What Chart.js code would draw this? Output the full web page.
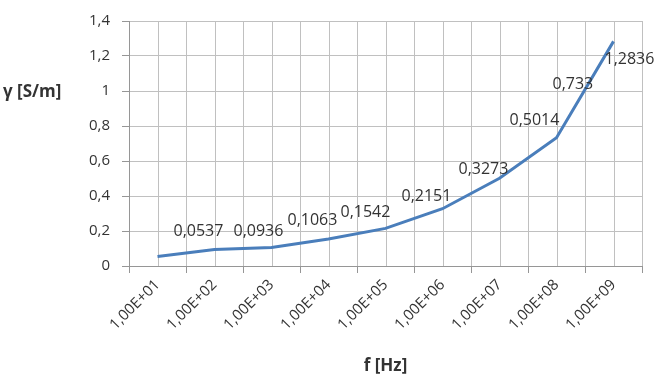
<!DOCTYPE html>
<html>
<head>
<meta charset="utf-8">
<script src="https://cdn.jsdelivr.net/npm/chart.js@4/dist/chart.umd.min.js"></script>
<style>
    html, body { margin: 0; padding: 0; background: #fff; }
    #wrap { width: 659px; height: 378px; }
</style>
</head>
<body>
<div id="wrap"><canvas id="grafico"></canvas></div>
<script>
// Dados do gráfico
const frequencias = ['1,00E+01', '1,00E+02', '1,00E+03', '1,00E+04', '1,00E+05',
                     '1,00E+06', '1,00E+07', '1,00E+08', '1,00E+09'];
const condutividade = [0.0537, 0.0936, 0.1063, 0.1542, 0.2151, 0.3273, 0.5014, 0.733, 1.2836];
const yMin = 0;
const yMax = 1.4;
const yPasso = 0.2;

// Estilo
const FONTE = '"Open Sans", "Noto Sans", sans-serif';
const COR_TEXTO = '#333333';
const COR_GRADE = '#c0c0c0';
const COR_EIXO = '#969696';
const COR_LINHA = '#4a7ebb';
// deslocamento de cada rótulo em relação ao seu ponto (borda esquerda, centro vertical)
const deslocRotulos = [[16, -25], [19, -18], [16, -27], [12, -27], [16, -32],
                       [16, -39], [10, -58], [-4, -53], [-9, 18]];

const formatarNumero = (v) => String(Math.round(v * 10000) / 10000).replace('.', ',');

// Linhas verticais no centro de cada categoria (como no Excel)
const gradeCentral = {
    id: 'gradeCentral',
    beforeDatasetsDraw(chart) {
        const { ctx, chartArea, scales } = chart;
        ctx.save();
        ctx.strokeStyle = COR_GRADE;
        ctx.lineWidth = 1;
        frequencias.forEach((_, i) => {
            const x = Math.round(scales.x.getPixelForValue(i)) + 0.5;
            ctx.beginPath();
            ctx.moveTo(x, chartArea.top);
            ctx.lineTo(x, chartArea.bottom);
            ctx.stroke();
        });
        ctx.restore();
    }
};

// Rótulos de dados e título do eixo Y (horizontal)
const rotulos = {
    id: 'rotulos',
    afterDatasetsDraw(chart) {
        const { ctx, scales } = chart;
        const meta = chart.getDatasetMeta(0);
        ctx.save();
        ctx.fillStyle = COR_TEXTO;
        ctx.font = '16px ' + FONTE;
        ctx.textAlign = 'left';
        ctx.textBaseline = 'middle';
        meta.data.forEach((pt, i) => {
            const [dx, dy] = deslocRotulos[i];
            ctx.fillText(formatarNumero(condutividade[i]), pt.x + dx, pt.y + dy);
        });

        ctx.font = 'bold 17px ' + FONTE;
        ctx.fillText('γ [S/m]', 3, scales.y.getPixelForValue(1) + 1);
        ctx.restore();
    }
};

new Chart(document.getElementById('grafico'), {
    type: 'line',
    data: {
        labels: frequencias,
        datasets: [{
            data: condutividade,
            borderColor: COR_LINHA,
            borderWidth: 3,
            pointRadius: 0,
            tension: 0,
            fill: false
        }]
    },
    options: {
        responsive: true,
        maintainAspectRatio: false,
        animation: false,
        devicePixelRatio: 1,
        layout: { padding: { top: 15, right: 17, left: 0, bottom: 0 } },
        plugins: {
            legend: { display: false },
            tooltip: { enabled: false }
        },
        scales: {
            x: {
                offset: true,
                grid: {
                    offset: true,
                    color: COR_GRADE,
                    tickColor: COR_EIXO,
                    tickLength: 7
                },
                border: { color: COR_EIXO },
                ticks: {
                    autoSkip: false,
                    minRotation: 45,
                    maxRotation: 45,
                    padding: 3,
                    color: COR_TEXTO,
                    font: { family: FONTE, size: 15 }
                },
                title: {
                    display: true,
                    text: 'f [Hz]',
                    color: COR_TEXTO,
                    font: { family: FONTE, size: 17, weight: 'bold' },
                    padding: { top: 0, bottom: 2 }
                },
                afterFit(scale) { scale.height = 112; }
            },
            y: {
                min: yMin,
                max: yMax,
                grid: {
                    color: COR_GRADE,
                    tickColor: COR_EIXO,
                    tickLength: 7
                },
                border: { color: COR_EIXO },
                ticks: {
                    stepSize: yPasso,
                    padding: 12,
                    color: COR_TEXTO,
                    font: { family: FONTE, size: 15 },
                    callback: (v) => formatarNumero(v)
                },
                afterFit(scale) { scale.width = 129; }
            }
        }
    },
    plugins: [gradeCentral, rotulos]
});
</script>
</body>
</html>
